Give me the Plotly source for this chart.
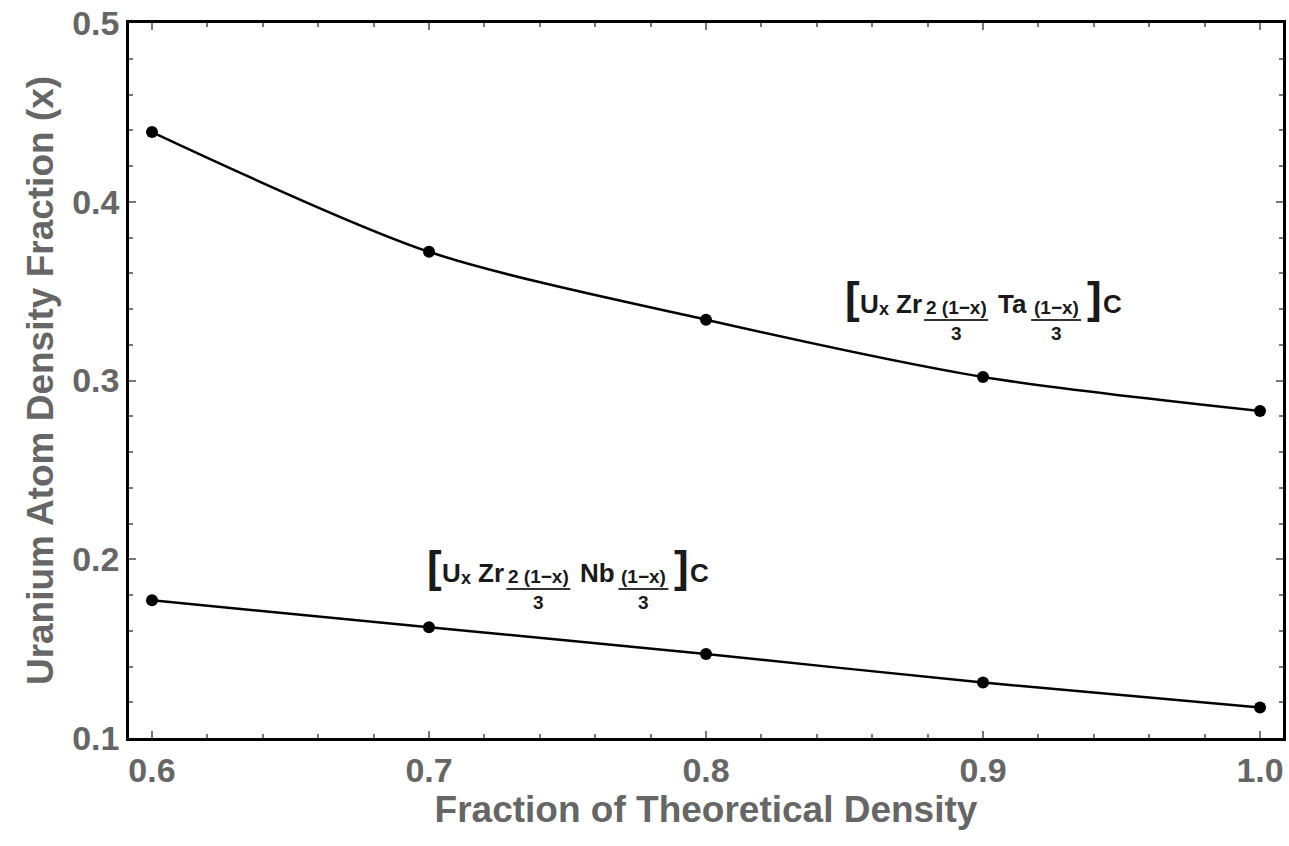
import plotly.graph_objects as go

# ---- data ----
density_fraction = [0.6, 0.7, 0.8, 0.9, 1.0]
u_frac_ta = [0.439, 0.372, 0.334, 0.302, 0.283]
u_frac_nb = [0.177, 0.162, 0.147, 0.131, 0.117]
x_ticks = [0.6, 0.7, 0.8, 0.9, 1.0]
x_tick_labels = ["0.6", "0.7", "0.8", "0.9", "1.0"]
y_ticks = [0.1, 0.2, 0.3, 0.4, 0.5]
y_tick_labels = ["0.1", "0.2", "0.3", "0.4", "0.5"]
x_title = "Fraction of Theoretical Density"
y_title = "Uranium Atom Density Fraction (x)"

GREY = "#666666"
AFONT = "Liberation Sans, Arial, sans-serif"
FFONT = "Liberation Sans Narrow, Arial Narrow, Liberation Sans, Arial, sans-serif"

fig = go.Figure()
for ys in (u_frac_ta, u_frac_nb):
    fig.add_trace(go.Scatter(
        x=density_fraction, y=ys, mode="lines+markers",
        line=dict(color="black", width=2.5, shape="spline", smoothing=0.8),
        marker=dict(color="black", size=12),
        showlegend=False, hoverinfo="skip"))

annotations = []
shapes = []


def formula(ax, ay, element, extra):
    # pieces: text, dx (px), dy (px, down positive), size, xanchor
    pieces = [
        ("<b>[</b>", 0, -7, 44, "left"),
        ("<b>U</b>", 15, 0, 26, "left"),
        ("<b>x</b>", 34, 5, 18, "left"),
        ("<b>Zr</b>", 51, 0, 26, "left"),
        ("<b>2 (1−x)</b>", 113, 3, 19, "center"),
        ("<b>3</b>", 113, 29, 19, "center"),
        ("<b>%s</b>" % element, 153, 0, 26, "left"),
        ("<b>(1−x)</b>", 213 + extra, 3, 19, "center"),
        ("<b>3</b>", 213 + extra, 29, 19, "center"),
        ("<b>]</b>", 242 + extra, -7, 44, "left"),
        ("<b>C</b>", 258 + extra, 0, 26, "left"),
    ]
    for txt, dx, dy, sz, xa in pieces:
        annotations.append(dict(
            x=ax, y=ay, xref="x", yref="y", text=txt, showarrow=False,
            xanchor=xa, yanchor="middle", xshift=dx, yshift=-dy,
            font=dict(family=FFONT, size=sz, color="#1a1a1a")))
    for b0, b1 in ((81, 145), (188 + extra, 238 + extra)):
        shapes.append(dict(
            type="line", xref="x", yref="y", xsizemode="pixel", ysizemode="pixel",
            xanchor=ax, yanchor=ay, x0=b0, x1=b1, y0=-16, y1=-16,
            line=dict(color="#333333", width=2)))


formula(0.8495, 0.3428, "Ta", 0)
formula(0.6987, 0.1923, "Nb", 5)

axis_common = dict(
    showgrid=False, zeroline=False, showline=True, linecolor="black",
    linewidth=2.5, mirror="allticks", ticks="inside", ticklen=7,
    tickwidth=2, tickcolor="#777777",
    tickfont=dict(family=AFONT, size=34, color=GREY),
)

fig.update_layout(
    width=1289, height=846,
    margin=dict(l=129, r=3, t=23, b=108),
    paper_bgcolor="white", plot_bgcolor="white",
    xaxis=dict(range=[0.5917, 1.0083], tickvals=x_ticks,
               ticktext=["<b>%s</b>" % t for t in x_tick_labels],
               minor=dict(dtick=0.02, ticks="inside", ticklen=4, tickwidth=2,
                          tickcolor="#777777"),
               title=dict(text="<b>%s</b>" % x_title, standoff=2,
                          font=dict(family=AFONT, size=37, color=GREY)),
               **axis_common),
    yaxis=dict(range=[0.1, 0.5], tickvals=y_ticks,
               ticktext=["<b>%s</b>" % t for t in y_tick_labels],
               minor=dict(dtick=0.02, ticks="inside", ticklen=4, tickwidth=2,
                          tickcolor="#777777"),
               title=dict(text="<b>%s</b>" % y_title, standoff=8,
                          font=dict(family=AFONT, size=37, color=GREY)),
               **axis_common),
    annotations=annotations, shapes=shapes,
)

fig.write_html("out.html", config={"displayModeBar": False},
               post_script="document.body.style.margin='0';document.body.style.overflow='hidden';")
